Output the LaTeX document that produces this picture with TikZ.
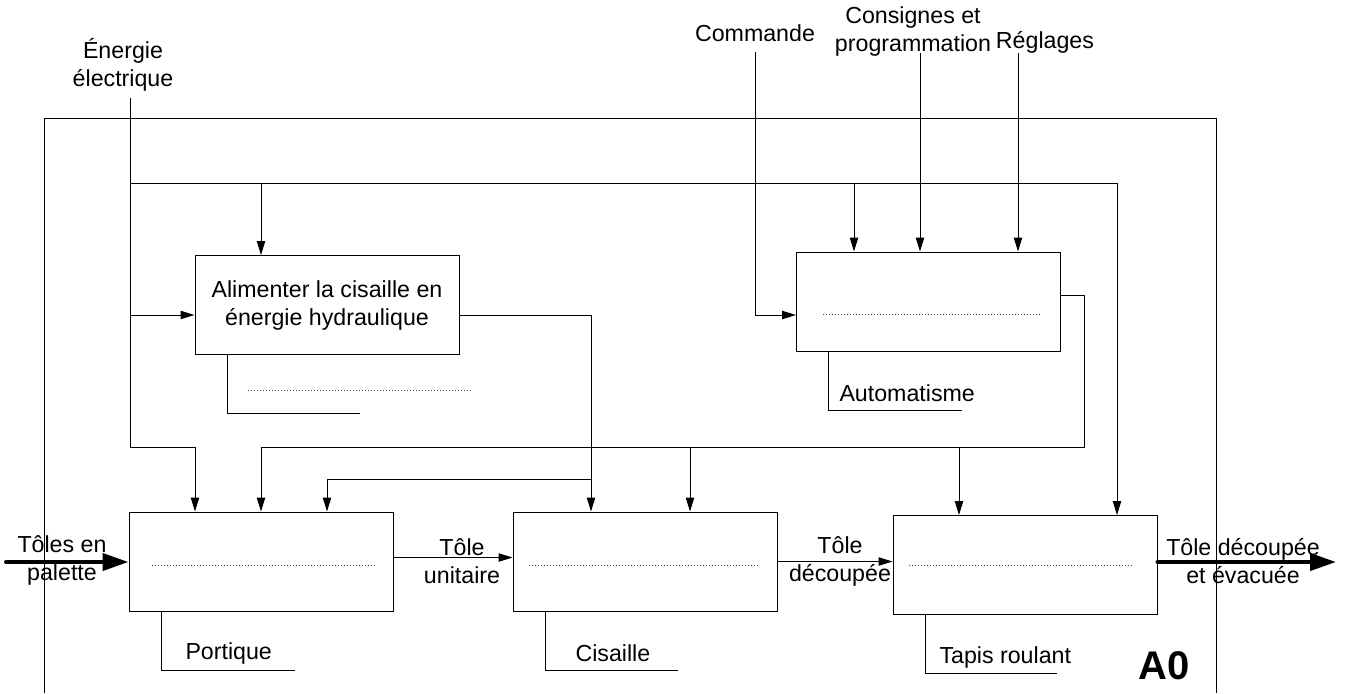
\documentclass[tikz,border=0pt]{standalone}
\usepackage{fontspec}
\setmainfont{Liberation Sans}
\usetikzlibrary{arrows.meta,calc}

\begin{document}
\begin{tikzpicture}[x=0.5pt, y=-0.5pt, line width=0.5pt,
		>={Triangle[length=7pt,width=4.2pt]},
		font=\fontsize{11.6}{14}\selectfont,
		box/.style={draw, minimum width=132pt, minimum height=49.5pt, inner sep=0pt, align=center},
		lbl/.style={inner sep=0pt, align=center},
		mlbl/.style={inner sep=0pt, anchor=west},
		blank/.style={densely dotted, black!70, line width=0.5pt},
		big/.style={line width=2pt, line cap=round, -{Triangle[length=13pt,width=8.5pt]}}]
			\useasboundingbox (0,0) rectangle (1346,693);
			
			% cadre
			\draw (44,693) |- (1216,118) -- (1216,693);
			
			\node[box] (alim) at (327,305) {Alimenter la cisaille en\\énergie hydraulique};
			\node[box] (auto) at (928.5,301.5) {};
			\node[box] (port) at (261,561.5) {};
			\node[box] (cis) at (645,561.5) {};
			\node[box] (tapis) at (1025,565) {};
			
			\node[lbl] (energie) at (123,65) {Énergie\\électrique};
			\node[lbl] (commande) at (755,33) {Commande};
			\node[lbl] (consignes) at (913,31) {Consignes et\\programmation};
			\node[lbl] (reglages) at (1045,42) {Réglages};
			
			\node[lbl] (toles) at (62,560) {Tôles en\\palette};
			\node[lbl] (unitaire) at (462,561) {Tôle\\unitaire};
			\node[lbl] (decoupee) at (840,561) {Tôle\\découpée};
			\node[lbl] (evacuee) at (1243,561) {Tôle découpée\\et évacuée};
			
			\node[mlbl] (automatisme) at (839,393) {Automatisme};
			\node[mlbl] (portique) at (185,653) {Portique};
			\node[mlbl] (cisaille) at (575,653) {Cisaille};
			\node[mlbl] (roulant) at (939,657) {Tapis roulant};
			
			\node[inner sep=0pt, font=\fontsize{20}{24}\selectfont\bfseries] (a0) at (1164,666) {A0};
			
			\coordinate (eIn) at (130,98);
			\coordinate (cIn) at (755,52);
			\coordinate (sIn) at (920,53);
			\coordinate (rIn) at (1018,53);
			\coordinate (tIn) at (6,562);
			\coordinate (tOut) at (1336,562);
			
			\coordinate (bus) at (130,183);
			\coordinate (busA) at (261,183);
			\coordinate (busB) at (854,183);
			\coordinate (busC) at (1117,183);
			\coordinate (eLow) at (195,447);
			\coordinate (hyd) at (591,315);
			\coordinate (hydB) at (327,479);
			\coordinate (cmd) at (1084,295);
			\coordinate (cmdLow) at (1084,447);
			\coordinate (cmdA) at (261,447);
			\coordinate (cmdB) at (690,447);
			\coordinate (cmdC) at (959,447);
			
			% energie electrique
			\draw (eIn) |- (eLow);
			\draw[->] (eLow) -- (eLow |- port.north);
			\draw (bus) -- (busC);
			\draw[->] (busC) -- (busC |- tapis.north);
			\draw[->] (busA) -- (busA |- alim.north);
			\draw[->] (busB) -- (busB |- auto.north);
			\draw[->] (eIn |- hyd) -- (hyd -| alim.west);
			
			% energie hydraulique
			\draw[->] (hyd -| alim.east) -- (hyd) -- (hyd |- cis.north);
			\draw[->] (hyd |- hydB) -- (hydB) -- (hydB |- port.north);
			
			% commande
			\draw[->] (cIn) |- (hyd -| auto.west);
			\draw[->] (sIn) -- (sIn |- auto.north);
			\draw[->] (rIn) -- (rIn |- auto.north);
			\draw (cmd -| auto.east) -- (cmd) -- (cmdLow) -- (cmdA);
			\draw[->] (cmdA) -- (cmdA |- port.north);
			\draw[->] (cmdB) -- (cmdB |- cis.north);
			\draw[->] (cmdC) -- (cmdC |- tapis.north);
			
			% matiere d'oeuvre
			\draw[big] (tIn) -- (tIn -| port.west);
			\draw[->] ([yshift=2pt]port.east) -- ([yshift=2pt]port.east -| cis.west);
			\draw[->] (cis.east) -- (cis.east -| tapis.west);
			\draw[big] (tapis.east |- tOut) -- (tOut);
			
			% supports
			\draw ([xshift=16.5pt]alim.south west) |- (360,413);
			\draw ([xshift=16pt]auto.south west) |- (962,410);
			\draw ([xshift=16.5pt]port.south west) |- (295,670);
			\draw ([xshift=16.5pt]cis.south west) |- (678,670);
			\draw ([xshift=16.5pt]tapis.south west) |- (1057,673);
			
			% champs vides
			\draw[blank] (248,390) -- (472,390);
			\draw[blank] (823,314) -- (1040,314);
			\draw[blank] (152,565) -- (375,565);
			\draw[blank] (529,565) -- (758,565);
			\draw[blank] (909,565) -- (1132,565);
		\end{tikzpicture}
\end{document}
